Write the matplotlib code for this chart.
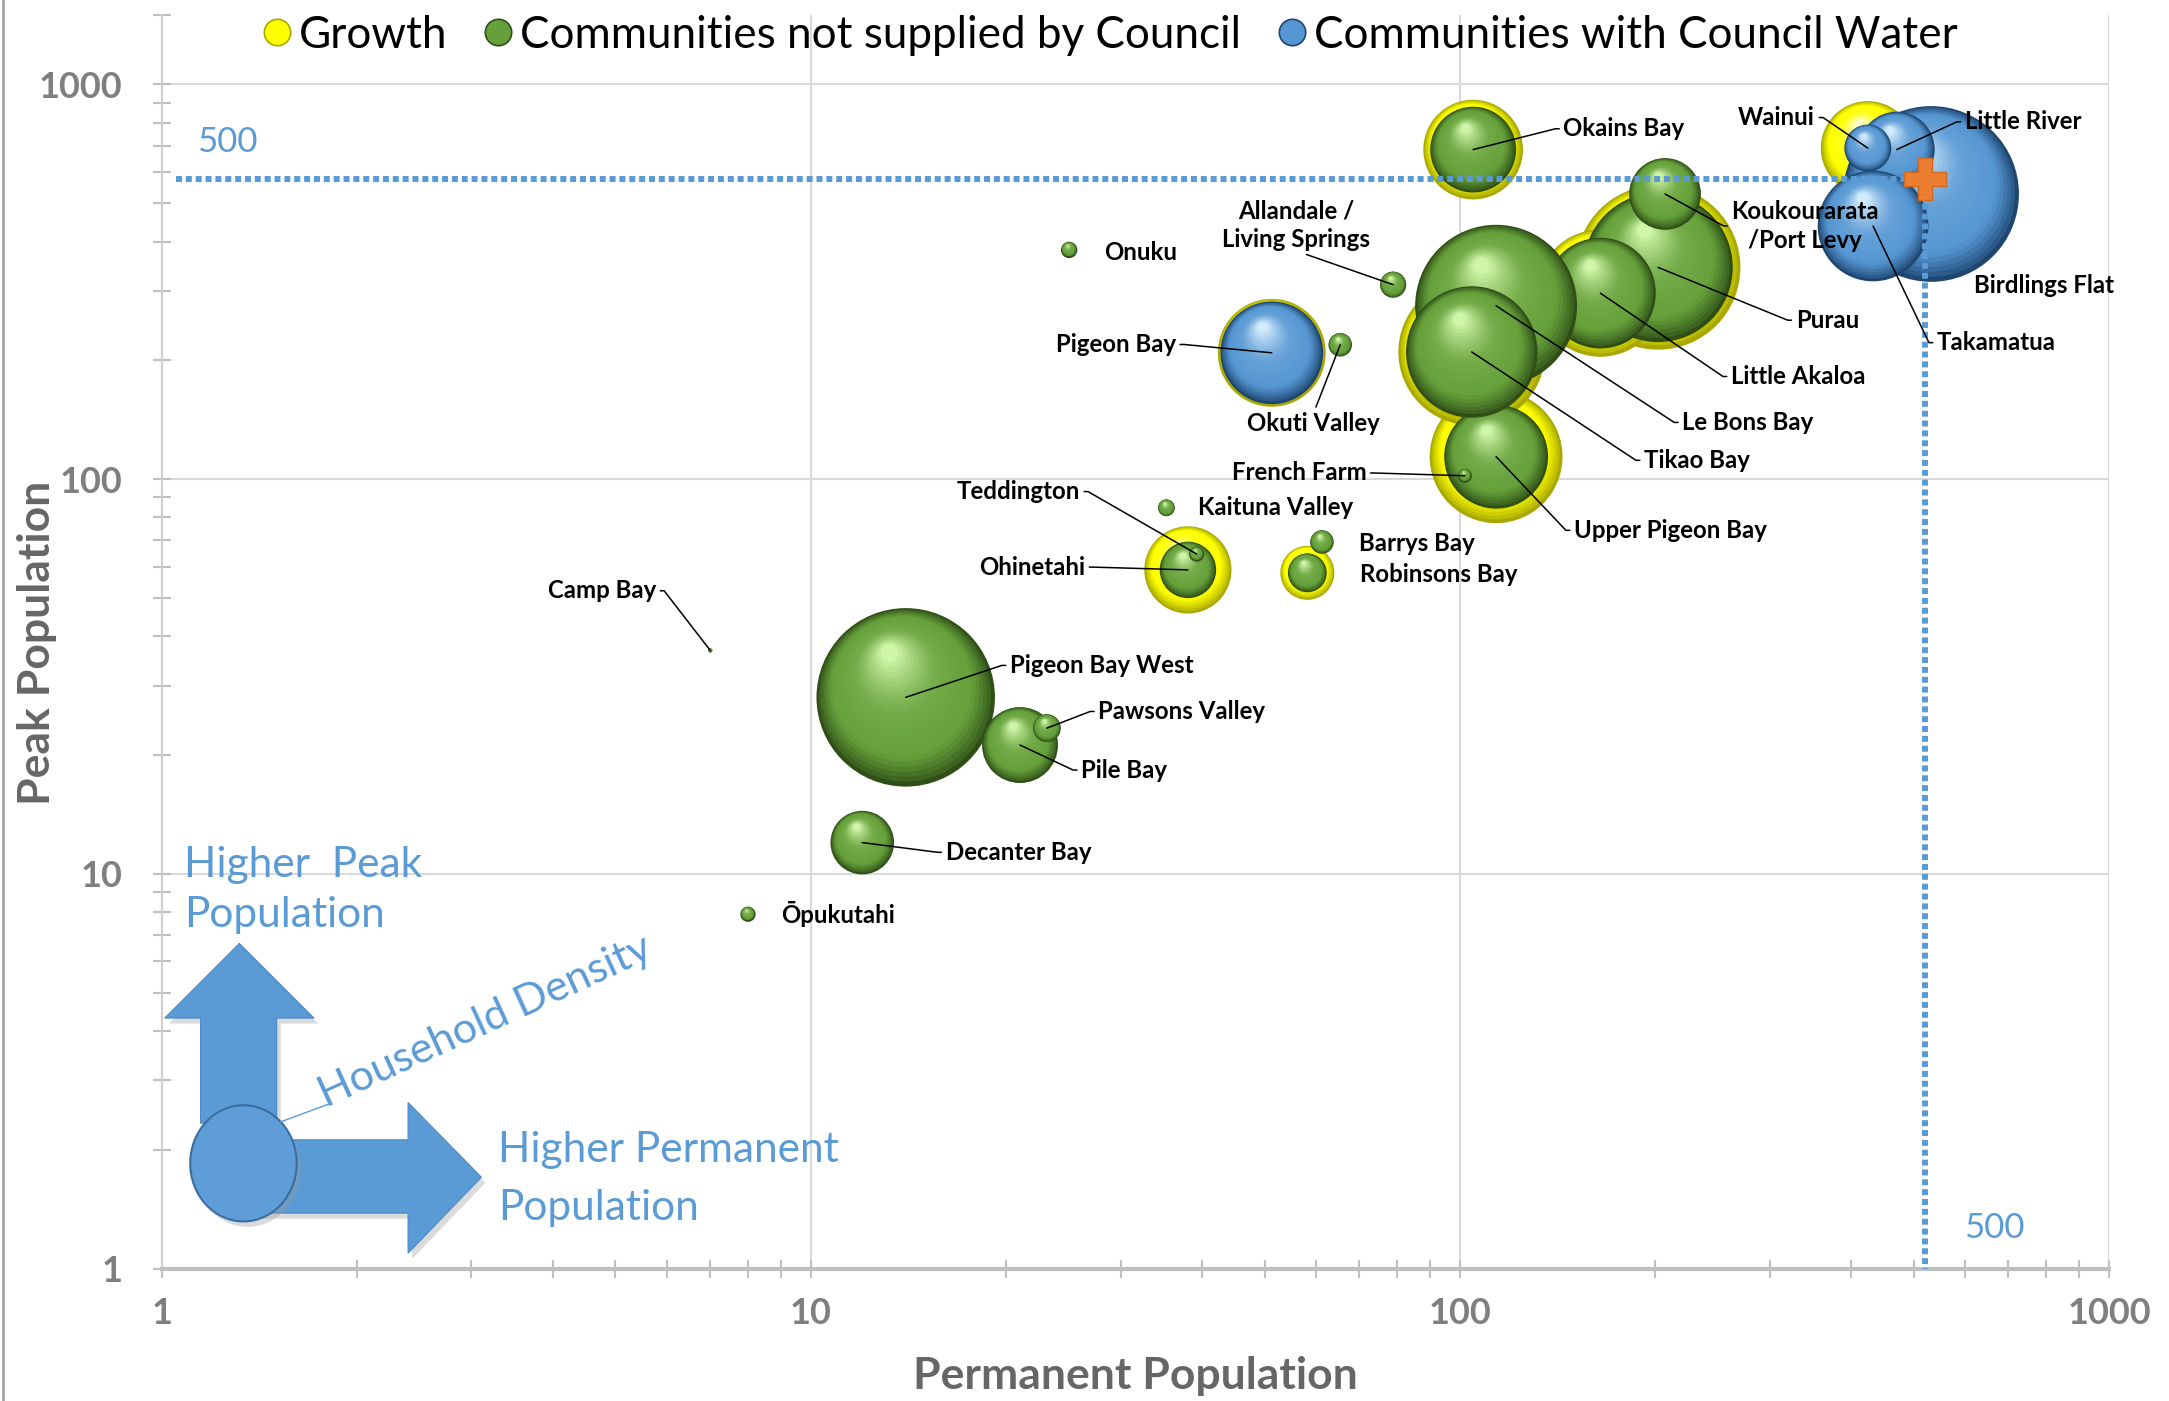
import numpy as np
import matplotlib
matplotlib.use("Agg")
import matplotlib.pyplot as plt
import matplotlib.transforms as mtransforms
from matplotlib.colors import to_rgb
from matplotlib.lines import Line2D
from matplotlib.patches import Polygon, Ellipse
from matplotlib.ticker import FixedLocator, FixedFormatter, NullFormatter

plt.rcParams['font.family'] = ['Lato', 'DejaVu Sans']

# ---------------- data ----------------
communities = ["Camp Bay", "Ōpukutahi", "Decanter Bay", "Pigeon Bay West", "Pile Bay",
               "Pawsons Valley", "Ohinetahi", "Teddington", "Kaituna Valley", "Robinsons Bay",
               "Barrys Bay", "Onuku", "Allandale /\nLiving Springs", "Okuti Valley",
               "Upper Pigeon Bay", "French Farm", "Purau", "Little Akaloa", "Le Bons Bay",
               "Tikao Bay", "Koukourarata\n/Port Levy", "Okains Bay", "Pigeon Bay",
               "Birdlings Flat", "Little River", "Wainui", "Takamatua"]
permanent_pop = [7.0, 8.0, 12.0, 14.0, 21.0, 23.1, 38.1, 39.3, 35.3, 58.2,
                 61.3, 25.0, 78.9, 65.4, 113.7, 101.8, 202, 164.6, 113.7, 104.3,
                 207, 104.8, 51.3, 532, 471, 425, 433]
peak_pop = [36.8, 7.9, 12.0, 28.0, 21.2, 23.4, 58.9, 64.6, 84.6, 57.9,
            69.3, 381, 311, 219, 114, 102, 344, 296, 275, 210,
            528, 684, 209, 528, 684, 690, 438]
bubble_size = [0.15, 1.9, 33, 260, 47, 6.3, 26, 1.9, 2.3, 12.3,
               4.5, 2.2, 5.6, 4.5, 88, 1.6, 182, 100, 214, 141,
               42, 60, 86, 252, 47, 18, 100]
growth_size = [0, 0, 0, 0, 0, 0, 62, 0, 0, 23.8,
               0, 0, 0, 0, 144, 0, 221, 132, 0, 176,
               0, 81, 95, 0, 0, 72, 0]
council_water = [False] * 22 + [True] * 5

threshold_perm = 520
threshold_peak = 575
threshold_label = "500"

x_ticks = [1, 10, 100, 1000]
y_ticks = [1, 10, 100, 1000]
tick_labels = ["1", "10", "100", "1000"]

legend_labels = ["Growth", "Communities not supplied by Council", "Communities with Council Water"]

# label layout: offset (points), alignment, leader style
label_layout = {
    "Camp Bay": (-39, 43, 'right', 'R'),
    "Ōpukutahi": (24, 0, 'left', None),
    "Decanter Bay": (60, -7, 'left', 'L'),
    "Pigeon Bay West": (75, 23, 'left', 'L'),
    "Pile Bay": (44, -18, 'left', 'L'),
    "Pawsons Valley": (37, 12, 'left', 'L'),
    "Ohinetahi": (-74, 2, 'right', 'R'),
    "Teddington": (-84, 45, 'right', 'R'),
    "Kaituna Valley": (23, 0, 'left', None),
    "Robinsons Bay": (38, -1, 'left', None),
    "Barrys Bay": (27, -1, 'left', None),
    "Onuku": (25, -2, 'left', None),
    "Allandale /\nLiving Springs": (-70, 43, 'center', 'B'),
    "Okuti Valley": (-19, -57, 'center', 'T'),
    "Upper Pigeon Bay": (56, -53, 'left', 'L'),
    "French Farm": (-71, 2, 'right', 'R'),
    "Purau": (99, -38, 'left', 'L'),
    "Little Akaloa": (94, -60, 'left', 'L'),
    "Le Bons Bay": (134, -84, 'left', 'L'),
    "Tikao Bay": (124, -78, 'left', 'L'),
    "Koukourarata\n/Port Levy": (101, -23, 'center', 'L'),
    "Okains Bay": (65, 15, 'left', 'L'),
    "Pigeon Bay": (-69, 6, 'right', 'R'),
    "Birdlings Flat": (31, -66, 'left', None),
    "Little River": (49, 20, 'left', 'L'),
    "Wainui": (-38, 22, 'right', 'R'),
    "Takamatua": (46, -84, 'left', 'L'),
}

GREEN = ("#2F4F17", "#65A03A", "#CFF5A8")
BLUE = ("#1E4670", "#5596D2", "#D2EBFC")
YELLOW = ("#A8A800", "#FFFF00", "#FFFFC8")
BUBBLE_SCALE = 7.97  # points per sqrt(size)

W, H = 2169, 1401
fig = plt.figure(figsize=(W / 100, H / 100), dpi=100)
ax = fig.add_axes([161.8 / W, 1 - 1268.5 / H, (2109 - 161.8) / W, (1268.5 - 15) / H])
ax.set_xscale('log')
ax.set_yscale('log')
ax.set_xlim(1, 1000)
ax.set_ylim(1, 1500)


def sphere(x, y, d, cols, z=2):
    dark, base, light = [np.array(to_rgb(c)) for c in cols]
    R = d / 2.0
    n = 26 if d > 12 else 7
    for i in range(n):
        t = i / (n - 1)
        r = R * (1 - 0.9 * t)
        off = R - r
        dx, dy = -0.2 * off, 0.55 * off
        if t < 0.22:
            c = dark + (base - dark) * (t / 0.22) ** 0.8
        elif t < 0.55:
            c = base + (light - base) * 0.12 * ((t - 0.22) / 0.33)
        else:
            b2 = base + (light - base) * 0.12
            c = b2 + (light - b2) * ((t - 0.55) / 0.45) ** 1.3
        tr = ax.transData + mtransforms.ScaledTranslation(dx / 72, dy / 72, fig.dpi_scale_trans)
        ax.scatter([x], [y], s=(2 * r) ** 2, color=np.clip(c, 0, 1), edgecolors='none',
                   transform=tr, zorder=z)


# growth bubbles first (behind)
for px, pk, g in zip(permanent_pop, peak_pop, growth_size):
    if g > 0:
        sphere(px, pk, BUBBLE_SCALE * np.sqrt(g), YELLOW)

for px, pk, b, cw in zip(permanent_pop, peak_pop, bubble_size, council_water):
    sphere(px, pk, max(BUBBLE_SCALE * np.sqrt(b), 3), BLUE if cw else GREEN)

# threshold lines
ax.plot([1.05, threshold_perm, threshold_perm], [threshold_peak, threshold_peak, 1],
        color='#5B9BD5', lw=4.3, linestyle=(0, (1, 0.65)), dash_capstyle='butt', zorder=4,
        clip_on=False)
ax.plot([threshold_perm], [threshold_peak], marker='P', ms=30, color='#ED7D31',
        mec='#D2691E', mew=1, zorder=6)
ax.text(1.133, 714, threshold_label, color='#5B9BD5', fontsize=25, ha='left', va='center', zorder=6)
ax.text(598, 1.27, threshold_label, color='#5B9BD5', fontsize=25, ha='left', va='center', zorder=6)

# data labels
for name, px, pk in zip(communities, permanent_pop, peak_pop):
    dx, dy, ha, leader = label_layout[name]
    kw = dict(xy=(px, pk), xytext=(dx, dy), textcoords='offset points', ha=ha, va='center',
              fontsize=17.3, fontweight='bold', color='black', zorder=7, linespacing=1.3,
              multialignment='center')
    if leader is not None:
        if leader == 'L':
            ap = dict(arrowstyle='-', color='black', lw=1.1, relpos=(0, 0.5), shrinkA=1, shrinkB=0,
                      connectionstyle='arc,angleA=180,armA=8,angleB=0,armB=0,rad=0')
        elif leader == 'R':
            ap = dict(arrowstyle='-', color='black', lw=1.1, relpos=(1, 0.5), shrinkA=1, shrinkB=0,
                      connectionstyle='arc,angleA=0,armA=8,angleB=0,armB=0,rad=0')
        elif leader == 'B':
            ap = dict(arrowstyle='-', color='black', lw=1.1, relpos=(0.5, 0), shrinkA=2, shrinkB=0)
        else:
            ap = dict(arrowstyle='-', color='black', lw=1.1, relpos=(0.5, 1), shrinkA=2, shrinkB=0)
        kw['arrowprops'] = ap
    ax.annotate(name, **kw)

# axes styling
ax.xaxis.set_major_locator(FixedLocator(x_ticks))
ax.xaxis.set_major_formatter(FixedFormatter(tick_labels))
ax.yaxis.set_major_locator(FixedLocator(y_ticks))
ax.yaxis.set_major_formatter(FixedFormatter(tick_labels))
minor = [k * 10 ** e for e in range(0, 3) for k in range(2, 10)]
ax.xaxis.set_minor_locator(FixedLocator(minor))
ax.yaxis.set_minor_locator(FixedLocator(minor + [1500]))
ax.xaxis.set_minor_formatter(NullFormatter())
ax.yaxis.set_minor_formatter(NullFormatter())
ax.tick_params(which='both', direction='inout', color='#BFBFBF', width=1.5, length=13)
ax.tick_params(axis='x', which='major', pad=14, labelsize=26, labelcolor='#7F7F7F')
ax.tick_params(axis='y', which='major', pad=22, labelsize=26, labelcolor='#7F7F7F')
for lab in ax.get_xticklabels() + ax.get_yticklabels():
    lab.set_fontweight('bold')
ax.grid(which='major', color='#D9D9D9', lw=1.5)
ax.set_axisbelow(True)
for s in ['top', 'right']:
    ax.spines[s].set_visible(False)
ax.spines['left'].set_color('#CFCFCF')
ax.spines['left'].set_linewidth(1.5)
ax.spines['bottom'].set_color('#BFBFBF')
ax.spines['bottom'].set_linewidth(3)

ax.set_xlabel("Permanent Population", fontsize=32, fontweight='bold', color='#666666', va='center')
ax.xaxis.set_label_coords(0.5, -0.0861)
ax.set_ylabel("Peak Population", fontsize=32, fontweight='bold', color='#666666', va='center')
ax.yaxis.set_label_coords(-0.0639, 0.499)

# legend
handles = [Line2D([], [], ls='', marker='o', ms=19, mfc=c[1], mec=c[0], mew=1.2)
           for c in (YELLOW, GREEN, BLUE)]
fig.legend(handles, legend_labels, loc='center', bbox_to_anchor=(0.5117, 0.975), ncol=3,
           frameon=False, fontsize=31.7, handletextpad=0.15, columnspacing=0.8, handlelength=0.7,
           labelcolor='black')

# ---------- explanatory graphic (bottom-left) ----------
S = W / 1568.0


def fp(X, Y):
    return (X * S / W, 1 - Y * S / H)


ARROW = '#5B9BD5'
up_arrow = [(145, 812), (145, 736), (119, 736), (173, 682), (227, 736), (200, 736), (200, 812)]
right_arrow = [(176, 824), (295, 824), (295, 797), (348, 851), (295, 906), (295, 877), (176, 877)]
for shape in (up_arrow, right_arrow):
    shadow = [fp(X + 3, Y + 4) for X, Y in shape]
    fig.add_artist(Polygon(shadow, closed=True, transform=fig.transFigure,
                           facecolor='#9A9A9A', edgecolor='none', alpha=0.35, zorder=3))
    fig.add_artist(Polygon([fp(X, Y) for X, Y in shape], closed=True, transform=fig.transFigure,
                           facecolor=ARROW, edgecolor='#4E8AC4', lw=0.8, zorder=3))
cx, cy = fp(176, 841)
fig.add_artist(Ellipse((cx + 3 * S / W, cy - 4 * S / H), 77 * S / W, 84 * S / H,
                       transform=fig.transFigure, facecolor='#9A9A9A', edgecolor='none',
                       alpha=0.35, zorder=3))
fig.add_artist(Ellipse((cx, cy), 77 * S / W, 84 * S / H, transform=fig.transFigure,
                       facecolor='#5E9DD8', edgecolor='#3B6E9F', lw=1.5, zorder=3))
fig.add_artist(Line2D([fp(203, 811)[0], fp(238, 798)[0]], [fp(203, 811)[1], fp(238, 798)[1]],
                      transform=fig.transFigure, color='#5B9BD5', lw=1, zorder=3))

txt_kw = dict(color='#5B9BD5', fontsize=30.5, transform=fig.transFigure, zorder=4)
fig.text(*fp(133, 634), "Higher  Peak", ha='left', va='baseline', **txt_kw)
fig.text(*fp(133, 670), "Population", ha='left', va='baseline', **txt_kw)
fig.text(*fp(360, 840), "Higher Permanent", ha='left', va='baseline', **txt_kw)
fig.text(*fp(360, 882), "Population", ha='left', va='baseline', **txt_kw)
fig.text(*fp(236, 801), "Household Density", ha='left', va='baseline', rotation=24.6,
         rotation_mode='anchor', color='#5B9BD5', fontsize=31, transform=fig.transFigure, zorder=4)

fig.add_artist(Line2D([0.0012, 0.0012], [0, 1], transform=fig.transFigure, color='#A6A6A6', lw=2))

fig.savefig("out.png", dpi=100)
